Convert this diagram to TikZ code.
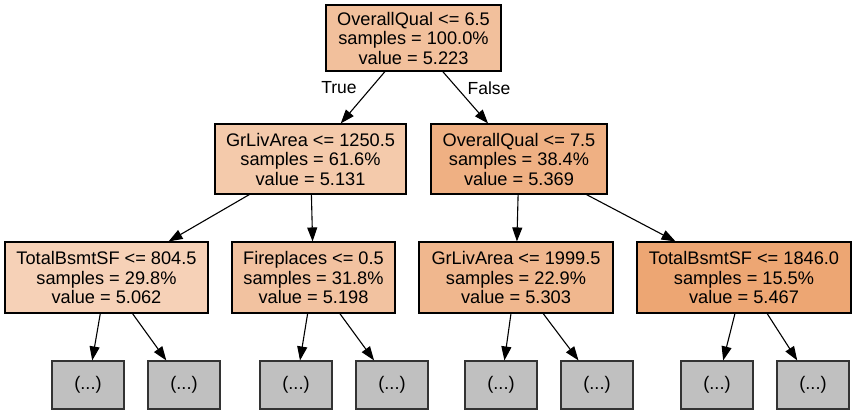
\documentclass[tikz,border=0pt]{standalone}
\usepackage{fontspec}
\setmainfont{Liberation Sans}
\usetikzlibrary{arrows.meta}
\definecolor{c0}{HTML}{F2C09C}
\definecolor{c1}{HTML}{F4CAAB}
\definecolor{c2}{HTML}{EFB083}
\definecolor{c3}{HTML}{F6D1B7}
\definecolor{c4}{HTML}{F2C2A0}
\definecolor{c5}{HTML}{F0B78E}
\definecolor{c6}{HTML}{EDA673}
\definecolor{leafgray}{HTML}{C0C0C0}
\begin{document}
\begin{tikzpicture}[x=1pt,y=-1pt,
  treenode/.style={draw=black,line width=1.1pt,rectangle,inner sep=0pt,align=center,
    font=\fontsize{18.2}{19.5}\selectfont},
  leafnode/.style={draw=black!80,line width=1.1pt,fill=leafgray,rectangle,inner sep=0pt,
    minimum width=72pt,minimum height=48pt,font=\fontsize{18.2}{19.5}\selectfont},
  edge/.style={line width=1.1pt,-{Triangle[length=14pt,width=10pt]}},
  elabel/.style={font=\fontsize{17.5}{19}\selectfont,inner sep=0pt}]
\useasboundingbox (0,0) rectangle (856,415);
\node[treenode,fill=c0,minimum width=175pt,minimum height=66pt] (root) at (413.5,38) {OverallQual <= 6.5\\samples = 100.0\%\\value = 5.223};
\node[treenode,fill=c1,minimum width=191pt,minimum height=70pt] (L) at (310.5,159) {GrLivArea <= 1250.5\\samples = 61.6\%\\value = 5.131};
\node[treenode,fill=c2,minimum width=176pt,minimum height=70pt] (R) at (519,159) {OverallQual <= 7.5\\samples = 38.4\%\\value = 5.369};
\node[treenode,fill=c3,minimum width=203pt,minimum height=71pt] (LL) at (106.5,277.5) {TotalBsmtSF <= 804.5\\samples = 29.8\%\\value = 5.062};
\node[treenode,fill=c4,minimum width=163pt,minimum height=71pt] (LR) at (313.5,277.5) {Fireplaces <= 0.5\\samples = 31.8\%\\value = 5.198};
\node[treenode,fill=c5,minimum width=194pt,minimum height=71pt] (RL) at (516,277.5) {GrLivArea <= 1999.5\\samples = 22.9\%\\value = 5.303};
\node[treenode,fill=c6,minimum width=214pt,minimum height=71pt] (RR) at (744,277.5) {TotalBsmtSF <= 1846.0\\samples = 15.5\%\\value = 5.467};
\node[leafnode] (l1) at (88,385) {(...)};
\node[leafnode] (l2) at (184,385) {(...)};
\node[leafnode] (l3) at (296,385) {(...)};
\node[leafnode] (l4) at (392,385) {(...)};
\node[leafnode] (l5) at (501,385) {(...)};
\node[leafnode] (l6) at (597,385) {(...)};
\node[leafnode] (l7) at (717,385) {(...)};
\node[leafnode] (l8) at (813,385) {(...)};
\draw[edge] (root) -- (L);
\draw[edge] (root) -- (R);
\node[elabel] (tlab) at (339,88) {True};
\node[elabel] (flab) at (489,88) {False};
\draw[edge] (L) -- (LL);
\draw[edge] (L) -- (LR);
\draw[edge] (R) -- (RL);
\draw[edge] (R) -- (RR);
\draw[edge] (LL) -- (l1);
\draw[edge] (LL) -- (l2);
\draw[edge] (LR) -- (l3);
\draw[edge] (LR) -- (l4);
\draw[edge] (RL) -- (l5);
\draw[edge] (RL) -- (l6);
\draw[edge] (RR) -- (l7);
\draw[edge] (RR) -- (l8);
\end{tikzpicture}
\end{document}
